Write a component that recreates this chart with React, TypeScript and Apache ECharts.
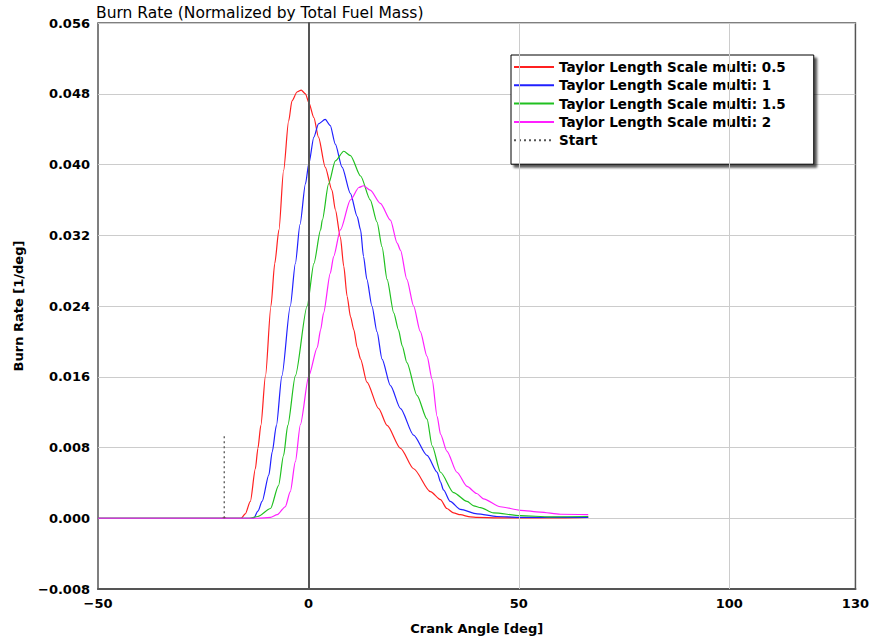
import React, { useEffect, useRef } from "react";
import * as echarts from "echarts";

// Crank angle [deg] / burn rate [1/deg] pairs for each Taylor length scale multiplier
const multi05: [number, number][] = [
  [-50, 0], [-20.5, 0], [-20, 0.0001], [-19.5, 0], [-16, 0], [-15, 0.0005], [-13.8, 0.0019],
  [-12.6, 0.0056], [-12.0, 0.0079], [-11.3, 0.0105], [-10.2, 0.0161], [-8.9, 0.024],
  [-8.0, 0.0288], [-7.0, 0.0326], [-5.9, 0.0393], [-4.7, 0.0449], [-3.9, 0.0472],
  [-2.7, 0.0482], [-1.7, 0.0484], [-0.7, 0.048], [0.1, 0.047], [1.3, 0.0453], [2.4, 0.0431],
  [4.0, 0.0397], [5.6, 0.0371], [6.4, 0.0349], [7.6, 0.0318], [8.4, 0.0285], [9.2, 0.0251],
  [10.0, 0.0228], [10.8, 0.0213], [11.6, 0.0193], [12.4, 0.018], [13.9, 0.0154],
  [16.7, 0.0124], [18.7, 0.0105], [21.9, 0.0079], [25.0, 0.0056], [29.0, 0.003],
  [31.4, 0.0021], [32.9, 0.0011], [34.5, 0.0006], [36.1, 0.0004], [38.5, 0.00015],
  [40.1, 0.0001], [45, 0.00005], [55, 0.00003], [66.5, 0.0001],
];

const multi1: [number, number][] = [
  [-50, 0], [-13, 0], [-12, 0.0008], [-11.0, 0.0019], [-9.4, 0.0049], [-8.6, 0.0075],
  [-7.6, 0.0105], [-6.3, 0.0161], [-4.3, 0.024], [-3.1, 0.0288], [-2.0, 0.0332],
  [-0.7, 0.0378], [0.1, 0.0401], [1.3, 0.0431], [2.4, 0.0446], [4.0, 0.0451], [5.2, 0.0444],
  [6.4, 0.0423], [8.0, 0.0397], [10.0, 0.0367], [11.6, 0.0341], [12.4, 0.0326],
  [13.1, 0.0296], [13.9, 0.027], [15.1, 0.024], [16.3, 0.0211], [17.5, 0.018], [19.5, 0.015],
  [21.9, 0.0124], [25.0, 0.0094], [28.2, 0.0071], [30.6, 0.0052], [31.4, 0.0041],
  [32.1, 0.0032], [33.7, 0.0019], [36.1, 0.001], [40.1, 0.0005], [44.8, 0.0002],
  [50, 0.0001], [66.5, 0.0001],
];

const multi15: [number, number][] = [
  [-50, 0], [-14, 0], [-12, 0.0002], [-9.0, 0.0011], [-7.1, 0.0037], [-5.9, 0.0071],
  [-4.9, 0.0105], [-3.1, 0.0161], [-0.3, 0.024], [1.3, 0.0288], [2.9, 0.0326], [3.3, 0.0337],
  [4.8, 0.0378], [6.4, 0.0404], [8.4, 0.0415], [10.0, 0.041], [12.4, 0.0387], [14.7, 0.036],
  [16.3, 0.0335], [17.5, 0.0307], [18.7, 0.027], [20.3, 0.0232], [21.4, 0.0213],
  [22.3, 0.0195], [23.4, 0.0176], [25.8, 0.0139], [28.2, 0.0112], [29.4, 0.0082],
  [31.4, 0.0052], [34.5, 0.0029], [37.7, 0.0019], [39.3, 0.0014], [40.9, 0.0012],
  [44.0, 0.0006], [50.4, 0.0003], [57.5, 0.00015], [66.5, 0.0002],
];

const multi2: [number, number][] = [
  [-50, 0], [-12, 0], [-9, 0.0001], [-7.4, 0.0004], [-5.5, 0.0013], [-4.3, 0.003],
  [-3.1, 0.0064], [-1.9, 0.0106], [0.1, 0.0161], [2.1, 0.0193], [2.9, 0.0213], [3.6, 0.0232],
  [5.2, 0.0277], [6.0, 0.0296], [7.6, 0.0326], [10.0, 0.036], [12.0, 0.0374], [13.1, 0.0376],
  [14.7, 0.0371], [17.1, 0.0356], [19.5, 0.0337], [21.1, 0.0311], [21.9, 0.0303],
  [23.4, 0.027], [25.0, 0.024], [26.6, 0.0211], [28.2, 0.0183], [29.4, 0.0157],
  [30.6, 0.0115], [31.4, 0.0095], [32.9, 0.0076], [35.3, 0.0052], [37.7, 0.0036],
  [40.0, 0.0028], [41.6, 0.0022], [45.6, 0.0013], [50.4, 0.0009], [55.1, 0.0007],
  [59.9, 0.00045], [66.5, 0.0004],
];

// Combustion start marker
const startMarker: [number, number][] = [[-20, 0], [-20, 0.0093]];

const seriesNames = [
  "Taylor Length Scale multi: 0.5",
  "Taylor Length Scale multi: 1",
  "Taylor Length Scale multi: 1.5",
  "Taylor Length Scale multi: 2",
  "Start",
];
const seriesColors = ["#ff2020", "#2020ff", "#20c020", "#ff20ff", "#555555"];

const xGridLines = [50, 100];
const xLabelValues = [-50, 0, 50, 100, 130];

const FONT = "DejaVu Sans";

const fmtMinus = (s: string) => s.replace("-", "\u2212");

export default function App() {
  const ref = useRef<HTMLDivElement>(null);

  useEffect(() => {
    if (!ref.current) return;
    const chart = echarts.init(ref.current, undefined, { renderer: "svg" });
    const curves = [multi05, multi1, multi15, multi2];

    chart.setOption({
      animation: false,
      backgroundColor: "#ffffff",
      title: {
        text: "Burn Rate (Normalized by Total Fuel Mass)",
        left: 96,
        top: 5,
        padding: 0,
        textStyle: { fontFamily: FONT, fontSize: 15.5, fontWeight: "normal", color: "#000" },
      },
      legend: {
        data: seriesNames,
        orient: "vertical",
        left: 511,
        top: 55,
        itemWidth: 40,
        itemHeight: 14,
        itemGap: 4.3,
        padding: [5, 28, 17, 2],
        backgroundColor: "#ffffff",
        borderColor: "#000000",
        borderWidth: 1,
        borderRadius: 0,
        shadowColor: "rgba(0,0,0,0.65)",
        shadowBlur: 2,
        shadowOffsetX: 3,
        shadowOffsetY: 3,
        selectedMode: false,
        itemStyle: { opacity: 0 },
        textStyle: { fontFamily: FONT, fontSize: 13.5, fontWeight: "bold", color: "#000" },
      },
      grid: {
        left: 98,
        right: 16,
        top: 23,
        bottom: 49,
        show: true,
        borderColor: "#555",
        borderWidth: 1.5,
        backgroundColor: "#ffffff",
      },
      xAxis: {
        type: "value",
        min: -50,
        max: 130,
        interval: 10,
        name: "Crank Angle [deg]",
        nameLocation: "middle",
        nameGap: 33,
        nameTextStyle: { fontFamily: FONT, fontSize: 13, fontWeight: "bold", color: "#000" },
        axisLine: { show: true, onZero: false, lineStyle: { color: "#555", width: 2 } },
        axisTick: { show: false },
        splitLine: { show: false },
        axisLabel: {
          fontFamily: FONT,
          fontSize: 13,
          fontWeight: "bold",
          color: "#000",
          margin: 8,
          showMinLabel: true,
          showMaxLabel: true,
          formatter: (v: number) => (xLabelValues.includes(v) ? fmtMinus(String(v)) : ""),
        },
      },
      yAxis: {
        type: "value",
        min: -0.008,
        max: 0.056,
        interval: 0.008,
        name: "Burn Rate [1/deg]",
        nameLocation: "middle",
        nameGap: 73,
        nameTextStyle: { fontFamily: FONT, fontSize: 13, fontWeight: "bold", color: "#000" },
        axisLine: { show: true, lineStyle: { color: "#555", width: 2 } },
        axisTick: { show: false },
        splitLine: { show: true, lineStyle: { color: "#cccccc", width: 1 } },
        axisLabel: {
          fontFamily: FONT,
          fontSize: 13,
          fontWeight: "bold",
          color: "#000",
          margin: 8,
          formatter: (v: number) => fmtMinus(v.toFixed(3)),
        },
      },
      series: [
        {
          name: "gridlines",
          type: "line",
          data: [],
          z: 1,
          silent: true,
          markLine: {
            silent: true,
            symbol: ["none", "none"],
            label: { show: false },
            animation: false,
            data: [
              ...xGridLines.map((v) => ({
                xAxis: v,
                lineStyle: { color: "#cccccc", width: 1, type: "solid" },
              })),
              { xAxis: 0, lineStyle: { color: "#555555", width: 2, type: "solid" } },
            ],
          },
        },
        ...curves.map((d, i) => ({
          name: seriesNames[i],
          type: "line",
          data: d,
          z: 3,
          showSymbol: false,
          symbol: "none",
          smooth: 0.25,
          smoothMonotone: "x",
          color: seriesColors[i],
          lineStyle: { color: seriesColors[i], width: 1.2 },
        })),
        {
          name: seriesNames[4],
          type: "line",
          data: startMarker,
          z: 3,
          showSymbol: false,
          symbol: "none",
          color: seriesColors[4],
          lineStyle: { color: seriesColors[4], width: 1.3, type: [2, 3] },
        },
      ],
    });

    return () => chart.dispose();
  }, []);

  return (
    <div
      ref={ref}
      style={{ position: "absolute", left: 0, top: 0, width: 872, height: 640 }}
    />
  );
}
